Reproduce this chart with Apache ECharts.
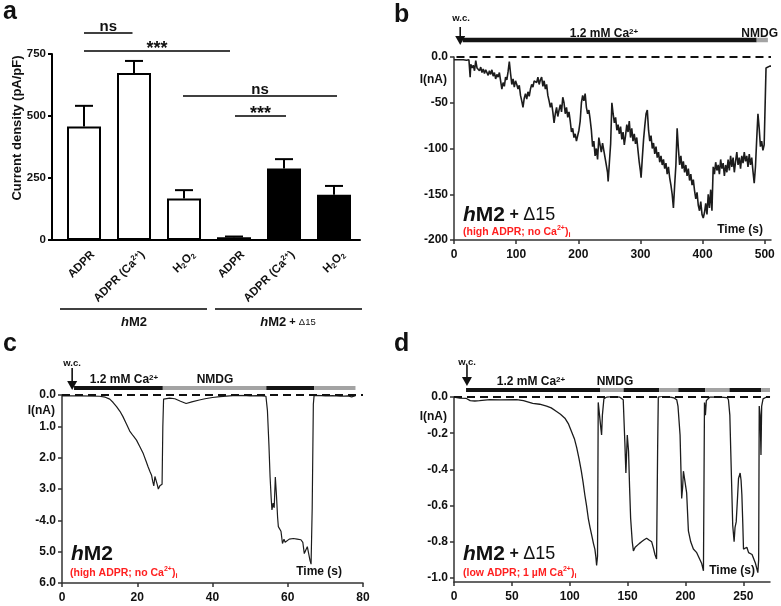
<!DOCTYPE html>
<html><head><meta charset="utf-8">
<script src="https://cdn.jsdelivr.net/npm/echarts@6/dist/echarts.min.js"></script>
<style>html,body{margin:0;padding:0;background:#fff}#chart{width:781px;height:606px}</style>
</head><body><div id="chart"></div>
<script>
const FONT = '"Liberation Sans", Arial, Helvetica, sans-serif';
const RED = '#ff1f1f';
const INK = '#111';

// ---------- Panel a ----------
const aCategories = ['ADPR', 'ADPR (Ca2+)', 'H2O2', 'ADPR', 'ADPR (Ca2+)', 'H2O2'];
const aMeans = [458, 673, 167, 11, 288, 182];
const aErrTop = [541, 722, 201, 14, 326, 218];
const aFilled = [0, 0, 0, 1, 1, 1];
const aYTicks = [0, 250, 500, 750];
const aGroups = ['hM2', 'hM2 + Δ15'];
const aSig = [
  {from: 0, to: 0.97, y: 835, text: 'ns'},
  {from: 0, to: 2.92, y: 762, text: '***'},
  {from: 1.98, to: 5.06, y: 581, text: 'ns'},
  {from: 3.02, to: 4.04, y: 500, text: '***'}
];

// ---------- Panel b ----------
const bTrace = [
[0,-3],[5,-3],[10,-3],[15,-3],[20,-3.5],[24,-3],[25,-4],[26,-22],[27,-8],[29,-12],[31,-9],[33,-15],[35,-4],[37,-12],[39,-10],[41,-15],[43,-11],[45,-17],[47,-13],[49,-18],
[51,-14],[53,-16],[55,-20],[57,-15],[59,-19],[61,-14],[63,-21],[65,-17],[67,-24],[69,-19],[71,-22],[73,-17],[75,-26],[77,-35],[79,-28],[81,-32],[83,-22],[85,-25],[87,-16],[89,-5],
[91,-18],[93,-30],[95,-24],[97,-33],[99,-26],[101,-30],[103,-35],[105,-31],[107,-42],[109,-48],[111,-55],[113,-45],[115,-40],[117,-46],[119,-38],[121,-43],[123,-35],[125,-30],[127,-33],[129,-26],
[131,-24],[133,-28],[135,-22],[137,-30],[139,-25],[141,-22],[143,-32],[145,-26],[147,-35],[149,-30],[151,-42],[153,-48],[155,-55],[157,-50],[159,-60],[161,-72],[163,-62],[165,-55],[167,-65],[169,-58],
[171,-52],[173,-60],[175,-44],[177,-50],[179,-62],[181,-55],[183,-66],[185,-60],[187,-70],[189,-82],[191,-78],[193,-88],[195,-84],[197,-92],[199,-86],[201,-80],[203,-70],[205,-50],[207,-42],[209,-48],
[211,-40],[213,-55],[215,-62],[217,-58],[219,-68],[221,-80],[223,-98],[225,-92],[227,-108],[229,-100],[231,-112],[233,-88],[235,-96],[237,-104],[239,-94],[241,-102],[243,-110],[245,-118],[247,-126],[248,-136],
[250,-115],[252,-95],[254,-50],[256,-62],[258,-72],[260,-66],[262,-80],[264,-74],[266,-84],[268,-76],[270,-90],[272,-82],[274,-96],[276,-86],[278,-74],[280,-82],[282,-70],[284,-88],[286,-78],[288,-92],
[290,-84],[292,-95],[294,-88],[296,-102],[298,-115],[300,-125],[301,-132],[303,-110],[305,-90],[307,-75],[309,-62],[311,-58],[313,-80],[315,-92],[317,-86],[319,-100],[321,-94],[323,-106],[325,-98],[327,-110],
[329,-104],[331,-115],[333,-108],[335,-118],[337,-112],[339,-122],[341,-116],[343,-128],[345,-120],[347,-132],[349,-140],[351,-150],[353,-165],[355,-140],[357,-118],[359,-78],[361,-100],[363,-118],[365,-108],[367,-122],
[369,-114],[371,-126],[373,-118],[375,-130],[377,-122],[379,-135],[381,-128],[383,-140],[385,-134],[387,-146],[389,-155],[391,-148],[393,-162],[395,-168],[397,-158],[399,-172],[401,-176],[403,-170],[405,-160],[407,-172],
[409,-150],[411,-165],[413,-145],[415,-168],[417,-120],[419,-128],[421,-115],[423,-124],[425,-118],[427,-128],[429,-112],[431,-122],[433,-116],[435,-130],[437,-118],[439,-126],[441,-112],[443,-124],[445,-108],[447,-120],
[449,-110],[451,-126],[453,-114],[455,-104],[457,-118],[459,-110],[461,-122],[463,-108],[465,-116],[467,-104],[469,-114],[471,-108],[473,-120],[475,-106],[477,-118],[479,-110],[481,-125],[483,-138],[485,-120],[487,-90],
[489,-62],[491,-78],[493,-98],[495,-92],[497,-102],[499,-96],[500,-98],[501,-40],[502,-12],[505,-11],[508,-10],[510,-10]
];
const bXTicks = [0, 100, 200, 300, 400, 500];
const bYTicks = [0, -50, -100, -150, -200];
const bYLabels = ['0.0', '-50', '-100', '-150', '-200'];
const bConditions = [[14, 487, 1], [487, 505, 0]];   // 1 = 1.2 mM Ca2+, 0 = NMDG
const bWC = 10;

// ---------- Panel c ----------
const cTrace = [
[0,-0.03],[5,-0.03],[10,-0.04],[11.5,-0.07],[12.7,-0.13],[13.6,-0.24],[14.5,-0.37],[15.4,-0.52],[16.2,-0.69],[17.1,-0.92],[18,-1.15],[18.9,-1.3],[19.8,-1.44],[20.7,-1.65],[21.6,-1.87],[22.3,-2.1],[22.9,-2.3],[23.4,-2.45],[23.8,-2.56],[24.1,-2.75],
[24.4,-2.9],[24.7,-2.6],[25.0,-2.55],[25.3,-2.85],[25.6,-3.0],[26.0,-2.9],[26.3,-2.95],[26.6,-2.85],[26.8,-1.0],[27.0,-0.13],[27.5,-0.08],[28.6,-0.1],[30,-0.12],[31.5,-0.2],[33,-0.27],[34.5,-0.22],[36.5,-0.16],[38,-0.12],[40,-0.08],[42,-0.05],
[45.4,-0.02],[48,-0.01],[50,-0.03],[52,-0.02],[54.2,-0.04],[54.6,-0.5],[55.0,-1.6],[55.3,-2.6],[55.6,-3.3],[55.8,-3.67],[56.1,-3.45],[56.4,-3.6],[56.7,-2.62],[57.0,-3.2],[57.3,-3.9],[57.5,-4.2],[57.9,-4.25],[58.2,-4.35],[58.6,-4.74],[59.0,-4.6],
[59.3,-4.7],[60.4,-4.6],[61.5,-4.58],[62.5,-4.6],[63.5,-4.62],[64.0,-4.7],[64.4,-5.06],[64.8,-4.95],[65.2,-4.84],[65.5,-4.9],[65.9,-5.27],[66.2,-5.4],[66.5,-3.6],[66.8,-0.3],[67.0,-0.02],[68,-0.01],[70,-0.03],[72,-0.02],[74,-0.04],[76,-0.03],
[77,-0.06],[78,-0.02]
];
const cXTicks = [0, 20, 40, 60, 80];
const cYTicks = [0, -1, -2, -3, -4, -5, -6];
const cYLabels = ['0.0', '1.0', '2.0', '3.0', '-4.0', '5.0', '6.0'];
const cConditions = [[3.2, 26.8, 1], [26.8, 54.3, 0], [54.3, 67, 1], [67, 78, 0]];
const cWC = 2.7;

// ---------- Panel d ----------
const dTrace = [
[0,0],[5,-0.006],[10.7,-0.008],[14,-0.02],[18,-0.022],[22,-0.02],[31,-0.015],[40,-0.016],[54,-0.015],[60,-0.02],[68,-0.035],[74,-0.04],[80,-0.05],[84,-0.06],[88.6,-0.08],[92,-0.095],[95.8,-0.117],[99,-0.15],[101.5,-0.19],[104,-0.23],
[106,-0.28],[108,-0.34],[110,-0.41],[111.5,-0.47],[113,-0.54],[114.5,-0.6],[116,-0.67],[117.5,-0.72],[119,-0.765],[120.5,-0.81],[121.7,-0.84],[122.5,-0.88],[123.2,-0.93],[124,-0.88],[124.6,-0.03],[126,-0.04],[127,-0.18],[127.5,-0.21],[128.2,-0.1],[129.5,-0.01],
[132,0],[138,0.003],[143,0],[146.2,-0.015],[147.6,-0.25],[148.5,-0.42],[149.2,-0.3],[149.7,-0.21],[150.8,-0.3],[151.7,-0.5],[152.6,-0.67],[154,-0.8],[155,-0.85],[156.5,-0.83],[157.8,-0.84],[160,-0.81],[162,-0.8],[164,-0.79],[166.4,-0.78],[168.5,-0.79],
[170.8,-0.8],[172.5,-0.84],[173.6,-0.87],[175,-0.895],[175.9,-0.3],[176.5,0],[178,0.01],[182,0.008],[186.6,0],[190,-0.005],[192.4,-0.015],[193.5,-0.05],[195.3,-0.21],[196.7,-0.56],[197.5,-0.5],[198.2,-0.41],[199.6,-0.42],[201,-0.53],[202.5,-0.74],[204.5,-0.8],
[206.8,-0.84],[208.5,-0.83],[209.7,-0.86],[211,-0.87],[212.6,-0.9],[214,-0.92],[215.5,-0.96],[216.4,-0.03],[217.2,-0.1],[218,-0.02],[221,0],[230,0],[236,-0.003],[237.1,-0.015],[238.3,-0.1],[239.1,-0.3],[240.8,-0.71],[242,-0.8],[242.8,-0.72],[243.8,-0.69],
[245,-0.55],[245.8,-0.45],[247.2,-0.42],[248,-0.46],[248.7,-0.54],[249.5,-0.7],[250.1,-0.84],[251.5,-0.85],[253,-0.83],[254.5,-0.86],[255.9,-0.85],[257.5,-0.87],[258.8,-0.88],[260.5,-0.92],[261.7,-0.95],[262.5,-0.97],[263.2,-0.9],[263.7,-0.05],[264.5,-0.1],[265.2,-0.32],
[265.8,-0.05],[267,-0.01],[270,0],[273,0.005]
];
const dXTicks = [0, 50, 100, 150, 200, 250];
const dYTicks = [0, -0.2, -0.4, -0.6, -0.8, -1.0];
const dYLabels = ['0.0', '-0.2', '-0.4', '-0.6', '-0.8', '-1.0'];
const dConditions = [[10.4, 126.5, 1], [126.5, 146.5, 0], [146.5, 177.3, 1], [177.3, 193.8, 0], [193.8, 216.9, 1], [216.9, 238, 0], [238, 265.4, 1], [265.4, 273, 0]];
const dWC = 11.2;

// ---------- helpers ----------
function catRich(s) {
  let r = '{t|' + s.replace('Ca2+', 'Ca}{sup|2+}{t|').replace('H2O2', 'H}{sub|2}{t|O}{sub|2}{t|') + '}';
  return r.replace(/\{t\|\}/g, '');
}
const tickLabel = (size) => ({fontFamily: FONT, fontWeight: 'bold', fontSize: size, color: INK});

function traceX(gi, min, max, ticks) {
  return {gridIndex: gi, type: 'value', min, max,
    axisLine: {onZero: false, lineStyle: {color: '#333', width: 1.5}},
    axisTick: {show: true, customValues: ticks, length: 4, lineStyle: {color: '#333', width: 1.5}},
    axisLabel: Object.assign({customValues: ticks, margin: 9}, tickLabel(12)),
    splitLine: {show: false}};
}
function traceY(gi, min, max, ticks, labels) {
  return {gridIndex: gi, type: 'value', min, max,
    axisLine: {show: true, onZero: false, lineStyle: {color: '#333', width: 1.5}},
    axisTick: {show: true, customValues: ticks, length: 4, lineStyle: {color: '#333', width: 1.5}},
    axisLabel: Object.assign({customValues: ticks, margin: 6,
      formatter: v => { const i = ticks.findIndex(t => Math.abs(t - v) < 1e-6); return i >= 0 ? labels[i] : ''; }}, tickLabel(12)),
    splitLine: {show: false}};
}
function condRender(offset, h) {
  return function (params, api) {
    const p1 = api.coord([api.value(0), 0]);
    const p2 = api.coord([api.value(1), 0]);
    return {type: 'rect', shape: {x: p1[0], y: p1[1] - offset - h / 2, width: p2[0] - p1[0], height: h},
      style: {fill: api.value(2) === 1 ? '#141414' : '#a3a3a3'}};
  };
}
function arrowRender(topOff, tipOff) {
  return function (params, api) {
    const p = api.coord([api.value(0), 0]);
    const x = p[0], yTop = p[1] - topOff, yTip = p[1] - tipOff;
    return {type: 'group', children: [
      {type: 'line', shape: {x1: x, y1: yTop, x2: x, y2: yTip - 7}, style: {stroke: INK, lineWidth: 1.6}},
      {type: 'polygon', shape: {points: [[x - 5, yTip - 9], [x + 5, yTip - 9], [x, yTip]]}, style: {fill: INK}}
    ]};
  };
}
function zeroLine(x0, x1) {
  return {silent: true, symbol: ['none', 'none'], label: {show: false}, animation: false,
    lineStyle: {type: [8, 5], color: INK, width: 2},
    data: [[{coord: [x0, 0]}, {coord: [x1, 0]}]]};
}
function traceSeries(gi, data, zl, w) {
  return {type: 'line', xAxisIndex: gi, yAxisIndex: gi, data, showSymbol: false, symbol: 'none',
    lineStyle: {color: '#1c1c1c', width: w || 1.3}, animation: false, z: 3, markLine: zl};
}
function condSeries(gi, data, offset, h) {
  return {type: 'custom', xAxisIndex: gi, yAxisIndex: gi, data, encode: {x: [0, 1]}, renderItem: condRender(offset, h), animation: false, silent: true, z: 4};
}
function arrowSeries(gi, t, topOff, tipOff) {
  return {type: 'custom', xAxisIndex: gi, yAxisIndex: gi, data: [[t]], encode: {x: 0}, renderItem: arrowRender(topOff, tipOff), animation: false, silent: true, z: 4};
}

const gridBase = {containLabel: false, outerBoundsMode: 'none', show: false};
const aLabelShift = 0.18;

const option = {
  backgroundColor: '#fff',
  animation: false,
  textStyle: {fontFamily: FONT},
  grid: [
    Object.assign({left: 52, top: 54, width: 308, height: 186}, gridBase),
    Object.assign({left: 454, top: 57, width: 317, height: 183}, gridBase),
    Object.assign({left: 62, top: 395, width: 301, height: 188}, gridBase),
    Object.assign({left: 454, top: 397, width: 316, height: 185}, gridBase)
  ],
  xAxis: [
    {gridIndex: 0, type: 'value', min: -0.64, max: 5.52,
      axisLine: {onZero: false, lineStyle: {color: '#000', width: 2}},
      axisTick: {show: false}, splitLine: {show: false},
      axisLabel: {customValues: aCategories.map((c, i) => i + aLabelShift), rotate: 45, margin: 13,
        formatter: v => catRich(aCategories[Math.round(v - aLabelShift)]),
        rich: {
          t: {fontFamily: FONT, fontWeight: 'bold', fontSize: 11.5, color: INK, lineHeight: 14},
          sup: {fontFamily: FONT, fontWeight: 'bold', fontSize: 7.5, color: INK, lineHeight: 8, verticalAlign: 'top'},
          sub: {fontFamily: FONT, fontWeight: 'bold', fontSize: 7.5, color: INK, lineHeight: 8, verticalAlign: 'bottom'}
        }}},
    traceX(1, 0, 510, bXTicks),
    traceX(2, 0, 80, cXTicks),
    traceX(3, 0, 273, dXTicks)
  ],
  yAxis: [
    {gridIndex: 0, type: 'value', min: 0, max: 750, interval: 250,
      axisLine: {show: true, onZero: false, lineStyle: {color: '#000', width: 2}},
      axisTick: {show: true, length: 4, lineStyle: {color: '#000', width: 2}},
      axisLabel: Object.assign({margin: 6}, tickLabel(11.5)),
      splitLine: {show: false}},
    traceY(1, -200, 0, bYTicks, bYLabels),
    traceY(2, -6, 0, cYTicks, cYLabels),
    traceY(3, -1.022, 0, dYTicks, dYLabels)
  ],
  series: [
    {type: 'bar', xAxisIndex: 0, yAxisIndex: 0, barWidth: 34, animation: false,
      data: aMeans.map((v, i) => ({value: [i, v], itemStyle: {color: aFilled[i] ? '#000' : '#fff', borderColor: '#000', borderWidth: 2}}))},
    {type: 'custom', xAxisIndex: 0, yAxisIndex: 0, animation: false, z: 5,
      data: aMeans.map((v, i) => [i, v, aErrTop[i]]), encode: {x: 0, y: [1, 2]},
      renderItem: function (params, api) {
        const lo = api.coord([api.value(0), api.value(1)]);
        const hi = api.coord([api.value(0), api.value(2)]);
        return {type: 'group', children: [
          {type: 'line', shape: {x1: lo[0], y1: lo[1], x2: hi[0], y2: hi[1]}, style: {stroke: '#000', lineWidth: 2}},
          {type: 'line', shape: {x1: hi[0] - 9, y1: hi[1], x2: hi[0] + 9, y2: hi[1]}, style: {stroke: '#000', lineWidth: 2}}
        ]};
      }},
    traceSeries(1, bTrace, zeroLine(4, 510), 1.6),
    condSeries(1, bConditions, 17, 4.5),
    arrowSeries(1, bWC, 30, 12),
    traceSeries(2, cTrace, zeroLine(0, 80), 1.2),
    condSeries(2, cConditions, 7, 4),
    arrowSeries(2, cWC, 27, 5),
    traceSeries(3, dTrace, zeroLine(0, 273), 1.3),
    condSeries(3, dConditions, 7, 4),
    arrowSeries(3, dWC, 32, 11)
  ]
};

const chart = echarts.init(document.getElementById('chart'), null, {renderer: 'canvas', width: 781, height: 606});
chart.setOption(option);

// ---------- annotations (text, sig bars) ----------
function tok(size, weight, color, extra) {
  return Object.assign({fontFamily: FONT, fontSize: size, fontWeight: weight || 'bold', fill: color || INK}, extra || {});
}
const richBase = {
  t: tok(12), t11: tok(12), sup: tok(8, 'bold', INK, {lineHeight: 8, verticalAlign: 'top'}),
  r: tok(10.5, 'bold', RED, {lineHeight: 14}), rsup: tok(7, 'bold', RED, {lineHeight: 7, verticalAlign: 'top'}),
  rsub: tok(7.5, 'bold', RED, {lineHeight: 8, verticalAlign: 'bottom'}),
  hi: tok(21, 'bold', INK, {fontStyle: 'italic'}), m: tok(21, 'bold'), p: tok(16, 'bold'), dl: tok(18, 'normal'),
  ghi: tok(13, 'bold', INK, {fontStyle: 'italic'}), gm: tok(13, 'bold'), gp: tok(11, 'bold'), gd: tok(9.5, 'normal'),
  wc: tok(9.5, 'bold'), L: tok(25, 'bold'), s: tok(15, 'bold'), st: tok(18, 'bold'), yt: tok(13, 'bold')
};
function T(x, y, text, align, vAlign, extra) {
  return Object.assign({type: 'text', x, y, silent: true, z: 100,
    style: {text, rich: richBase, fill: INK, font: 'bold 12px ' + FONT,
      align: align || 'left', textAlign: align || 'left',
      verticalAlign: vAlign || 'middle', textVerticalAlign: vAlign || 'middle'}}, extra || {});
}
function L(x1, y1, x2, y2, w) {
  return {type: 'line', silent: true, z: 100, shape: {x1, y1, x2, y2}, style: {stroke: '#000', lineWidth: w || 1.5}};
}
const caLabel = '{t11|1.2 mM Ca}{sup|2+}';
const g = [];
// panel letters
g.push(T(3, 12, '{L|a}', 'left', 'middle'));
g.push(T(394, 15, '{L|b}', 'left', 'middle'));
g.push(T(3, 344, '{L|c}', 'left', 'middle'));
g.push(T(394, 344, '{L|d}', 'left', 'middle'));

// panel a: y-axis title, sig bars, groups
g.push(T(17, 128, '{yt|Current density (pA/pF)}', 'center', 'middle', {rotation: Math.PI / 2}));
aSig.forEach(s => {
  const p1 = chart.convertToPixel({xAxisIndex: 0, yAxisIndex: 0}, [s.from, s.y]);
  const p2 = chart.convertToPixel({xAxisIndex: 0, yAxisIndex: 0}, [s.to, s.y]);
  g.push(L(p1[0], p1[1], p2[0], p2[1], 1.5));
  const star = s.text === '***';
  g.push(T((p1[0] + p2[0]) / 2, p1[1] - (star ? 2 : 6), (star ? '{st|' : '{s|') + s.text + '}', 'center', 'middle'));
});
g.push(L(60, 309, 207, 309, 1.5));
g.push(L(215, 309, 362, 309, 1.5));
g.push(T(134, 322, '{ghi|h}{gm|M2}', 'center', 'middle'));
g.push(T(288, 322, '{ghi|h}{gm|M2}{gp| + }{gd|Δ15}', 'center', 'middle'));

// panel b texts
g.push(T(461, 18, '{wc|w.c.}', 'center', 'middle'));
g.push(T(604, 34, caLabel, 'center', 'middle'));
g.push(T(778, 34, '{t11|NMDG}', 'right', 'middle'));
g.push(T(447, 80, '{t|I(nA)}', 'right', 'middle'));
g.push(T(463, 215, '{hi|h}{m|M2}{p| + }{dl|Δ15}', 'left', 'middle'));
g.push(T(463, 232, '{r|(high ADPR; no Ca}{rsup|2+}{r|)}{rsub|i}', 'left', 'middle'));
g.push(T(763, 230, '{t|Time (s)}', 'right', 'middle'));

// panel c texts
g.push(T(72, 363, '{wc|w.c.}', 'center', 'middle'));
g.push(T(124, 380, caLabel, 'center', 'middle'));
g.push(T(215, 380, '{t11|NMDG}', 'center', 'middle'));
g.push(T(55, 411, '{t|I(nA)}', 'right', 'middle'));
g.push(T(71, 554, '{hi|h}{m|M2}', 'left', 'middle'));
g.push(T(70, 573, '{r|(high ADPR; no Ca}{rsup|2+}{r|)}{rsub|i}', 'left', 'middle'));
g.push(T(342, 572, '{t|Time (s)}', 'right', 'middle'));

// panel d texts
g.push(T(467, 362, '{wc|w.c.}', 'center', 'middle'));
g.push(T(531, 382, caLabel, 'center', 'middle'));
g.push(T(615, 382, '{t11|NMDG}', 'center', 'middle'));
g.push(T(447, 417, '{t|I(nA)}', 'right', 'middle'));
g.push(T(463, 554, '{hi|h}{m|M2}{p| + }{dl|Δ15}', 'left', 'middle'));
g.push(T(463, 573, '{r|(low ADPR; 1 µM Ca}{rsup|2+}{r|)}{rsub|i}', 'left', 'middle'));
g.push(T(755, 571, '{t|Time (s)}', 'right', 'middle'));

chart.setOption({graphic: g});
</script>
</body></html>
